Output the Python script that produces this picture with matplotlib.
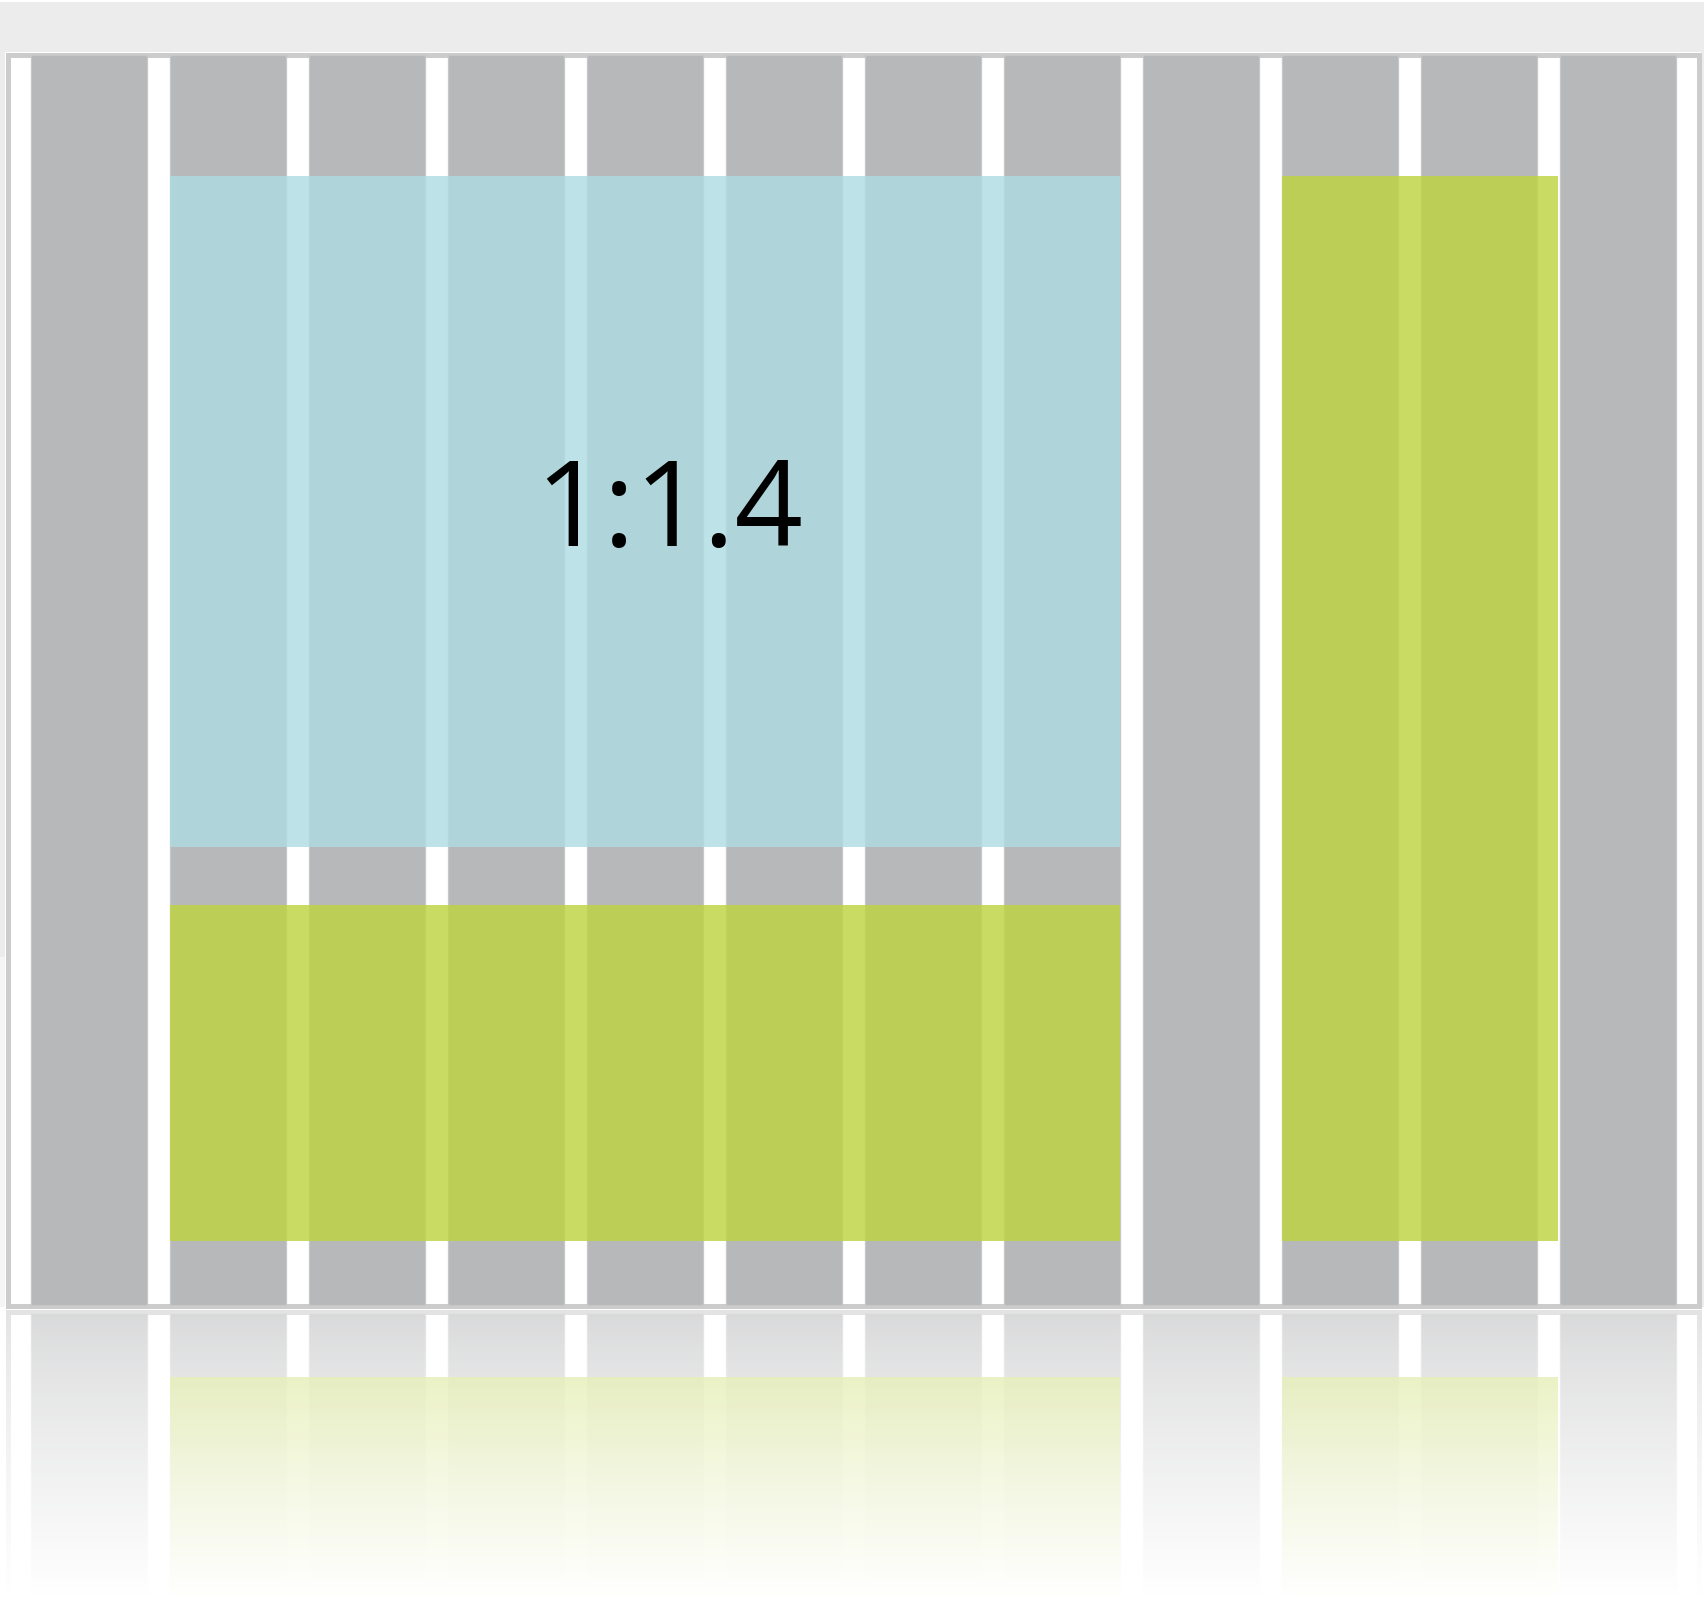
import matplotlib.pyplot as plt
import numpy as np
from matplotlib.patches import Rectangle

# page size in pixels
W, H = 1704, 1602

# column grid (pixels)
n_cols = 12
col_left = 31
col_width = 116
col_pitch = 139
grid_top = 55
grid_bottom = 1305
mirror_y = 1309

# blocks laid on the grid: first col, last col, top, bottom, extra px to the right
blocks = [
	dict(cols=(1, 7), rows=(176, 847), pad=0, color='#aedde3', alpha=0.81),
	dict(cols=(1, 7), rows=(905, 1241), pad=0, color='#bed440', alpha=0.82),
	dict(cols=(9, 10), rows=(176, 1241), pad=21, color='#bed440', alpha=0.82),
]
label = '1:1.4'
label_pos = (669, 546)


def fy(y, flip):
	return 2*mirror_y - y if flip else y


def rect(ax, x0, x1, y0, y1, flip, **kw):
	a, b = fy(y0, flip), fy(y1, flip)
	ax.add_patch(Rectangle((x0, min(a, b)), x1 - x0, abs(b - a), **kw))


def draw_scene(ax, flip):
	# frame
	rect(ax, 7.5, 1698.5, 54.5, 1306, flip, facecolor='white', edgecolor='#cccccc', linewidth=3.6, zorder=1)
	# grey columns
	for j in range(n_cols):
		x0 = col_left + col_pitch*j
		rect(ax, x0, x0 + col_width, grid_top, grid_bottom, flip,
			facecolor='#b7b8ba', edgecolor='#c6c7c8', linewidth=0.9, zorder=2)
	# coloured blocks
	for b in blocks:
		x0 = col_left + col_pitch*b['cols'][0]
		x1 = col_left + col_pitch*b['cols'][1] + col_width + b['pad']
		rect(ax, x0, x1, b['rows'][0], b['rows'][1], flip,
			facecolor=b['color'], alpha=b['alpha'], linewidth=0, zorder=3)


fig = plt.figure(figsize=(W/100, H/100), dpi=100)
ax = fig.add_axes([0, 0, 1, 1])
ax.set_xlim(0, W)
ax.set_ylim(H, 0)
ax.axis('off')

# page background
ax.add_patch(Rectangle((0, 2), W, 50, facecolor='#ececec', linewidth=0, zorder=0))
ax.add_patch(Rectangle((0, 2), 5, 955, facecolor='#ececec', linewidth=0, zorder=0))
ax.add_patch(Rectangle((0, 957), 5, 350, facecolor='#f5f5f5', linewidth=0, zorder=0))
ax.add_patch(Rectangle((W - 3, 2), 3, 1305, facecolor='#ececec', linewidth=0, zorder=0))

draw_scene(ax, False)
draw_scene(ax, True)

# fade the reflection to white
ys = np.linspace(0, 1, 300)
fade = np.clip(0.45 + 0.55*(ys*292/285)**0.75, 0, 1)
grad = np.ones((300, 1, 4))
grad[:, 0, 3] = fade
ax.imshow(grad, extent=(0, W, H, mirror_y + 1), aspect='auto', zorder=5, interpolation='bilinear')
ax.set_xlim(0, W)
ax.set_ylim(H, 0)

ax.text(label_pos[0], label_pos[1], label, ha='center', va='baseline',
	fontsize=86, family='Open Sans', fontweight='normal', color='black', zorder=6)

fig.savefig('out.png', dpi=100)
